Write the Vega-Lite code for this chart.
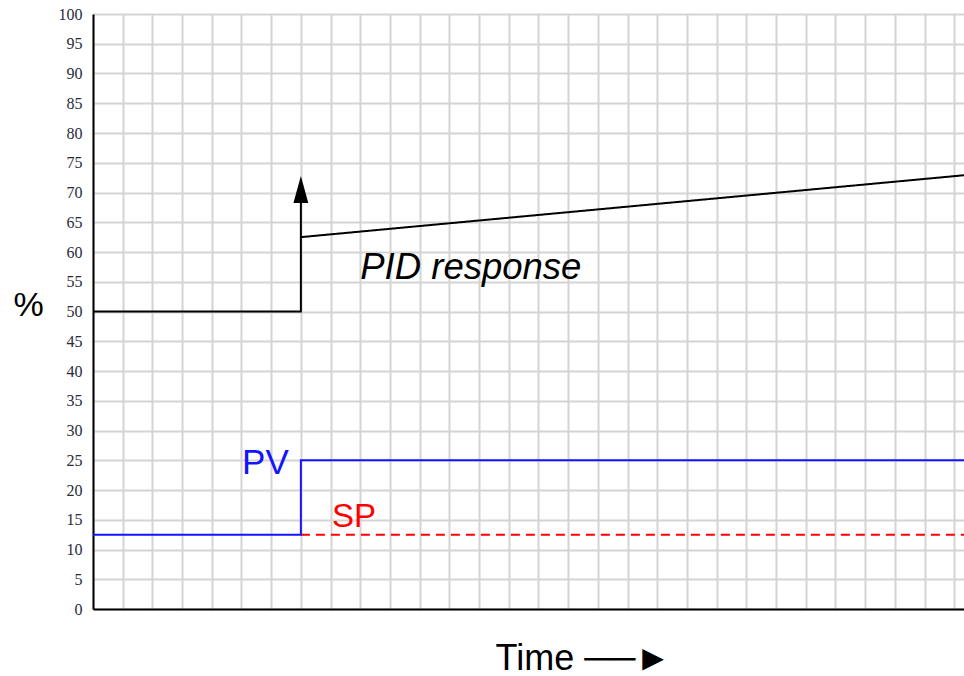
{
  "$schema": "https://vega.github.io/schema/vega-lite/v6.json",
  "autosize": "none",
  "width": 871,
  "height": 595,
  "padding": {"left": 93, "top": 14, "right": 0, "bottom": 67},
  "background": "white",
  "config": {
    "view": {"stroke": null},
    "axis": {"gridColor": "#d4d4d4", "gridWidth": 2, "domainColor": "#000", "domainWidth": 2, "ticks": false, "labelOverlap": false, "labelFlush": false}
  },
  "datasets": {
    "lines": [
      {"series": "PID", "seg": "a", "t": 0, "v": 50},
      {"series": "PID", "seg": "a", "t": 7, "v": 50},
      {"series": "PID", "seg": "a", "t": 7, "v": 70},
      {"series": "PID", "seg": "b", "t": 7, "v": 62.5},
      {"series": "PID", "seg": "b", "t": 29.33, "v": 72.9},
      {"series": "SP", "seg": "c", "t": 7, "v": 12.5},
      {"series": "SP", "seg": "c", "t": 29.33, "v": 12.5},
      {"series": "PV", "seg": "d", "t": 0, "v": 12.5},
      {"series": "PV", "seg": "d", "t": 7, "v": 12.5},
      {"series": "PV", "seg": "d", "t": 7, "v": 25},
      {"series": "PV", "seg": "d", "t": 29.33, "v": 25}
    ]
  },
  "encoding": {
    "x": {
      "field": "t", "type": "quantitative",
      "scale": {"domain": [0, 29.33], "nice": false, "zero": false},
      "axis": {
        "values": [0,1,2,3,4,5,6,7,8,9,10,11,12,13,14,15,16,17,18,19,20,21,22,23,24,25,26,27,28,29],
        "labels": false, "grid": true,
        "title": "Time ──►", "titleFont": "Liberation Sans", "titleFontSize": 36, "titleFontWeight": "normal",
        "titleColor": "#000", "titleX": 402, "titleY": 60, "titleBaseline": "alphabetic", "titleAlign": "left"
      }
    },
    "y": {
      "field": "v", "type": "quantitative",
      "scale": {"domain": [0, 100], "nice": false},
      "axis": {
        "values": [0,5,10,15,20,25,30,35,40,45,50,55,60,65,70,75,80,85,90,95,100],
        "grid": true, "labelFont": "Liberation Serif", "labelFontSize": 16, "labelColor": "#2a2a3a",
        "labelPadding": 11,
        "title": "%", "titleAngle": 0, "titleFont": "Liberation Sans", "titleFontSize": 34, "titleFontWeight": "normal",
        "titleColor": "#000", "titleX": -65, "titleY": 291, "titleAlign": "center", "titleBaseline": "middle"
      }
    }
  },
  "layer": [
    {
      "data": {"name": "lines"},
      "mark": {"type": "line", "strokeWidth": 2, "interpolate": "linear"},
      "encoding": {
        "detail": {"field": "seg"},
        "order": {"field": "t"},
        "color": {"field": "series", "type": "nominal", "scale": {"domain": ["PID", "SP", "PV"], "range": ["#000000", "#ff0000", "#1414ff"]}, "legend": null},
        "strokeDash": {"field": "series", "type": "nominal", "scale": {"domain": ["PID", "SP", "PV"], "range": [[1, 0], [9, 6], [1, 0]]}, "legend": null}
      }
    },
    {
      "data": {"values": [{"t": 7, "v": 70.5}]},
      "mark": {"type": "point", "shape": "M0,-1L0.55,1L-0.55,1Z", "size": 729, "filled": true, "color": "#000", "opacity": 1}
    },
    {
      "data": {"values": [{"t": 9, "v": 55.5, "label": "PID response"}]},
      "mark": {"type": "text", "align": "left", "baseline": "alphabetic", "font": "Liberation Sans", "fontSize": 36.5, "fontStyle": "italic", "color": "#000"},
      "encoding": {"text": {"field": "label"}}
    },
    {
      "data": {"values": [{"t": 5.02, "v": 22.7, "label": "PV"}]},
      "mark": {"type": "text", "align": "left", "baseline": "alphabetic", "font": "Liberation Sans", "fontSize": 35, "color": "#1414ff"},
      "encoding": {"text": {"field": "label"}}
    },
    {
      "data": {"values": [{"t": 8.05, "v": 13.8, "label": "SP"}]},
      "mark": {"type": "text", "align": "left", "baseline": "alphabetic", "font": "Liberation Sans", "fontSize": 33, "color": "#ff0000"},
      "encoding": {"text": {"field": "label"}}
    }
  ]
}
